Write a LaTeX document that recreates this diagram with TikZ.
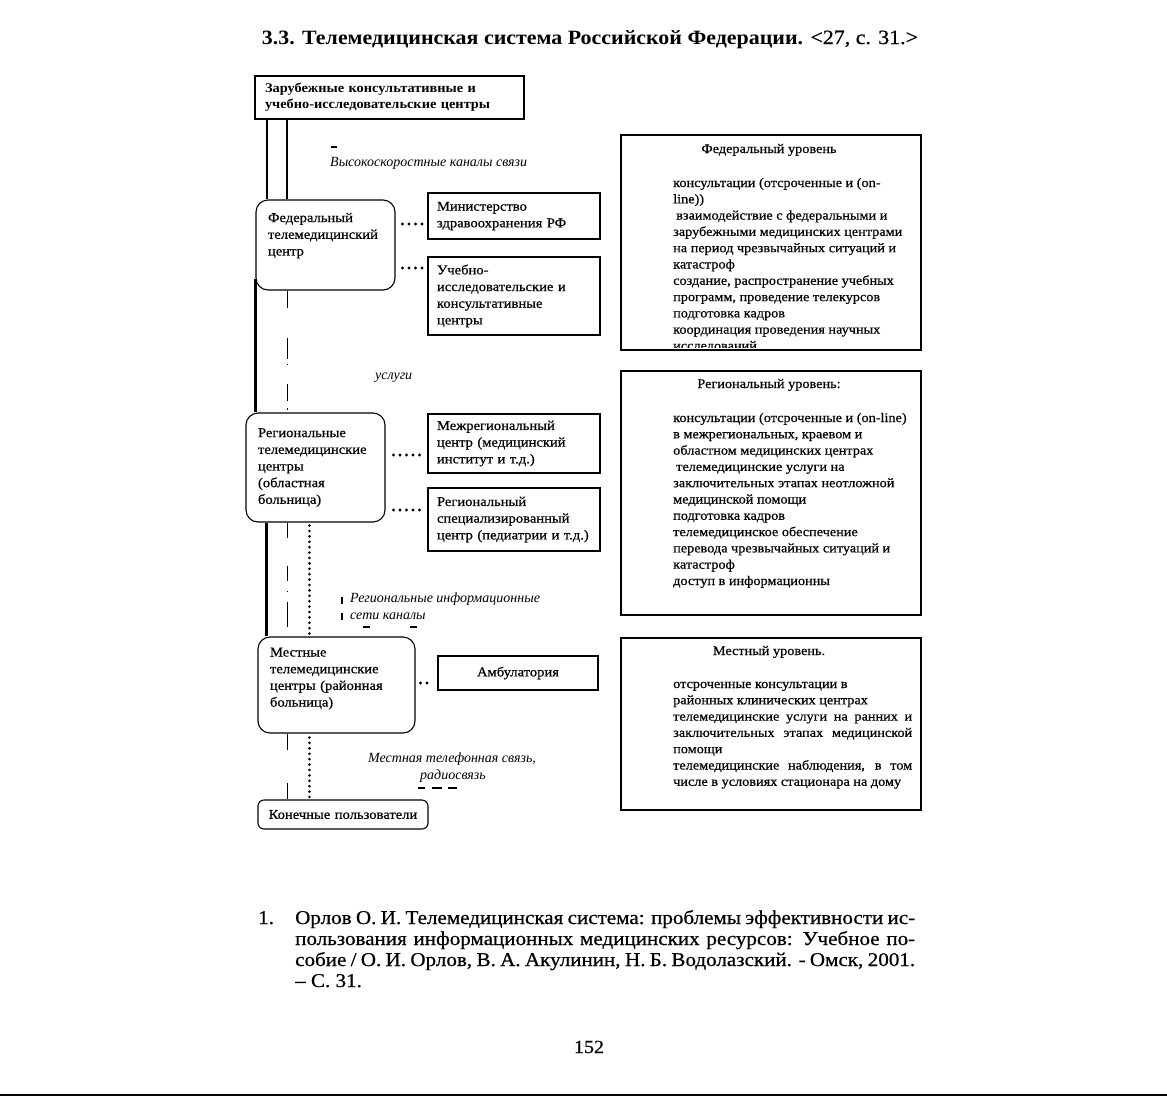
\documentclass[tikz,border=0pt]{standalone}
\usepackage{fontspec}
\setmainfont{Liberation Serif}[UprightFeatures={FakeStretch=1.08,FakeBold=0.6},BoldFeatures={FakeStretch=1.08}]
\usetikzlibrary{positioning}

\begin{document}
\begin{tikzpicture}[x=1pt,y=-1pt,
  box/.style={draw,line width=1.1pt,inner xsep=9pt,inner ysep=0pt,align=left,font=\fontsize{13.5}{16.7}\selectfont},
  rbox/.style={box,rounded corners=12pt,inner xsep=12pt},
  lvl/.style={draw,line width=1.1pt,minimum width=300,inner sep=0pt},
  txt/.style={inner sep=0pt,anchor=base west},
  body/.style={txt,font=\fontsize{13.2}{16.3}\selectfont},
  itl/.style={txt,font=\fontsize{14}{17}\selectfont\itshape},
  dots/.style={line width=3.2pt,line cap=round,dash pattern=on 0pt off 6.5pt},
  vdots/.style={line width=2.9pt,line cap=round,dash pattern=on 0pt off 5.4pt},
  thin/.style={line width=1.4pt},
  heavy/.style={line width=2.4pt}]
\useasboundingbox (0,0) rectangle (1167,1098);

\node[txt,anchor=base,font=\fontsize{20.3}{22}\selectfont] (title) at (590,44) {\textbf{3.3. Телемедицинская система Российской Федерации.} <27, с. 31.>};

\node[box,line width=2pt,inner xsep=10pt,text width=249pt,minimum height=43,font=\fontsize{13.3}{16}\selectfont\bfseries] (abroad) at (389.5,97.5) {Зарубежные консультативные и\\учебно-исследовательские центры};

\node[rbox,text width=115pt,minimum height=90] (fed) at (325.5,245) {Федеральный\\телемедицинский\\центр\\\strut};
\node[box,text width=154pt,minimum height=46] (minzdrav) at (514,216) {Министерство\\здравоохранения РФ};
\node[box,text width=154pt,minimum height=78] (ucheb) at (514,296) {Учебно-\\исследовательские и\\консультативные\\центры};

\node[rbox,text width=115pt,minimum height=109] (reg) at (315.5,467.5) {Региональные\\телемедицинские\\центры\\(областная\\больница)};
\node[box,text width=154pt,minimum height=59] (mezhreg) at (514,443.5) {Межрегиональный\\центр (медицинский\\институт и т.д.)};
\node[box,text width=154pt,minimum height=63] (regspec) at (514,519.5) {Региональный\\специализированный\\центр (педиатрии и т.д.)};

\node[rbox,text width=133pt,minimum height=96] (loc) at (336.5,685) {Местные\\телемедицинские\\центры (районная\\больница)\\[-6pt]\strut};
\node[box,align=center,text width=142pt,minimum height=34] (ambul) at (518,673) {Амбулатория};
\node[rbox,rounded corners=6pt,align=center,inner xsep=10pt,text width=150pt,minimum height=29] (users) at (343,814.5) {Конечные пользователи};

\draw[thin] ([xshift=13]abroad.south west) -- ([xshift=13]abroad.south west |- fed.north);
\draw[thin] ([xshift=33]abroad.south west) -- ([xshift=33]abroad.south west |- fed.north);
\draw[heavy] ([yshift=12]fed.south west) -- (fed.south west |- reg.north);
\draw[thin,dash pattern=on 17pt off 30pt on 21pt off 5pt on 1.5pt off 19pt on 17pt off 7pt on 1.5pt off 20pt] ([xshift=32]fed.south west) -- ([xshift=32]fed.south west |- reg.north);
\draw[heavy] ([xshift=21]reg.south west) -- ([xshift=21]reg.south west |- loc.north);
\draw[thin,dash pattern=on 15pt off 28pt on 15pt off 10pt on 1.5pt off 10pt on 25pt off 20pt] ([xshift=42]reg.south west) -- ([xshift=42]reg.south west |- loc.north);
\draw[vdots] ([xshift=64,yshift=-3]reg.south west) -- ([xshift=64]reg.south west |- loc.north);
\draw[thin,dash pattern=on 16pt off 33pt on 16pt off 20pt] ([xshift=30]loc.south west) -- ([xshift=30]loc.south west |- users.north);
\draw[vdots] ([xshift=52,yshift=-4]loc.south west) -- ([xshift=52]loc.south west |- users.north);

\draw[dots,shorten <=7pt,shorten >=5pt] ([yshift=-8]minzdrav.west -| fed.east) -- ([yshift=-8]minzdrav.west);
\draw[dots,shorten <=7pt,shorten >=5pt] ([yshift=28]ucheb.west -| fed.east) -- ([yshift=28]ucheb.west);
\draw[dots,shorten <=8pt,shorten >=5pt] ([yshift=-11.5]mezhreg.west -| reg.east) -- ([yshift=-11.5]mezhreg.west);
\draw[dots,shorten <=8pt,shorten >=5pt] ([yshift=9.5]regspec.west -| reg.east) -- ([yshift=9.5]regspec.west);
\draw[dots,shorten <=5pt,shorten >=7pt] ([yshift=-10]ambul.west -| loc.east) -- ([yshift=-10]ambul.west);

\node[itl] (fast) at (330,166) {Высокоскоростные каналы связи};
\draw[thin] (331,147) -- (337,147);
\node[itl] (serv) at (375,379) {услуги};
\node[itl] (regnet) at (350,602) {\parbox[t]{220pt}{Региональные информационные\\сети каналы}};
\draw[thin] (342,597) -- (342,604) (342,613) -- (342,620) (363,627) -- (370,627) (410,627) -- (417,627);
\node[itl] (phone) at (368,762) {\parbox[t]{200pt}{Местная телефонная связь,\\\hspace*{52pt}радиосвязь}};
\draw[thin] (418,788) -- (425,788) (432,788) -- (442,788) (448,788) -- (457,788);

\node[lvl,minimum height=215] (fedlvl) at (771,242.5) {};
\node[body,anchor=base] (fedlvlt) at (769,153) {Федеральный уровень};
\begin{scope}
\clip (fedlvl.north west) rectangle ([yshift=3]fedlvl.south east);
\node[body] (fedlvlb) at (673,187) {\parbox[t]{300pt}{консультации (отсроченные и (on-\\line))\\\hspace*{3pt}взаимодействие с федеральными и\\зарубежными медицинских центрами\\на период чрезвычайных ситуаций и\\катастроф\\создание, распространение учебных\\программ, проведение телекурсов\\подготовка кадров\\координация проведения научных\\исследований}};
\end{scope}

\node[lvl,minimum height=244] (reglvl) at (771,493) {};
\node[body,anchor=base] (reglvlt) at (769,388) {Региональный уровень:};
\node[body] (reglvlb) at (673,422) {\parbox[t]{300pt}{консультации (отсроченные и (on-line)\\в межрегиональных, краевом и\\областном медицинских центрах\\\hspace*{3pt}телемедицинские услуги на\\заключительных этапах неотложной\\медицинской помощи\\подготовка кадров\\телемедицинское обеспечение\\перевода чрезвычайных ситуаций и\\катастроф\\доступ в информационны}};

\node[lvl,minimum height=172] (loclvl) at (771,724) {};
\node[body,anchor=base] (loclvlt) at (769,655) {Местный уровень.};
\node[body] (loclvlb) at (673,688) {\parbox[t]{300pt}{отсроченные консультации в\\районных клинических центрах\\\makebox[239pt][s]{телемедицинские услуги на ранних и}\\\makebox[239pt][s]{заключительных этапах медицинской}\\помощи\\\makebox[239pt][s]{телемедицинские наблюдения, в том}\\числе в условиях стационара на дому}};

\node[txt,font=\fontsize{19.5}{21}\selectfont] (fnnum) at (258,924) {1.};
\node[txt,font=\fontsize{19.5}{21}\selectfont] (fn) at (295,924) {\parbox[t]{620pt}{\makebox[620pt][s]{Орлов О. И. Телемедицинская система: проблемы эффективности ис-}\\\makebox[620pt][s]{пользования информационных медицинских ресурсов: Учебное по-}\\\makebox[620pt][s]{собие / О. И. Орлов, В. А. Акулинин, Н. Б. Водолазский. - Омск, 2001.}\\– С. 31.}};
\node[txt,anchor=base,font=\fontsize{18.5}{21}\selectfont] (page) at (589,1053) {152};
\draw[line width=2pt] (0,1095) -- (1167,1095);
\end{tikzpicture}
\end{document}
